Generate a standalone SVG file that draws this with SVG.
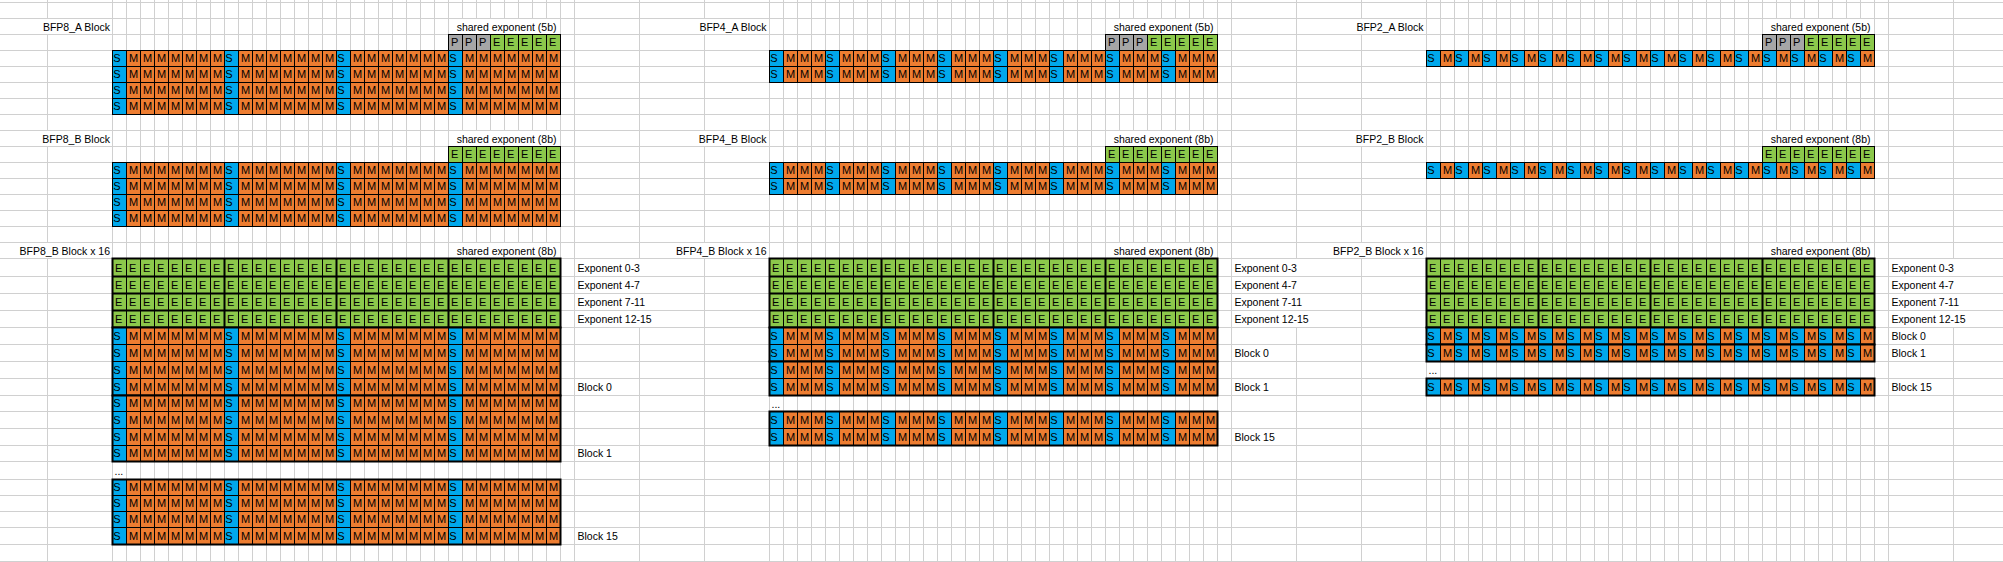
<svg xmlns="http://www.w3.org/2000/svg" width="2003" height="562" viewBox="0 0 2003 562">
<style>
.c{font-family:"Liberation Sans",Arial,sans-serif;font-size:11px;fill:#000}
.l{font-family:"Liberation Sans",Arial,sans-serif;font-size:10.5px;fill:#000}
.r{text-anchor:end}
.e{letter-spacing:6.663px}
.o{fill:#ED7D31}
.gr{fill:#8CC84B}
.p{fill:#A6A6A6}
.k{stroke:#000;stroke-width:1;fill:none}
.t{stroke:#000;stroke-width:2;fill:none}
.gl{stroke:#d0d0d0;stroke-width:1;fill:none}
.w{fill:#fff}
</style>
<defs>
<pattern id="g0" x="0" width="14" height="562" patternUnits="userSpaceOnUse"><rect width="1" height="562" fill="#d0d0d0"/></pattern>
<pattern id="g1" x="13" width="14" height="562" patternUnits="userSpaceOnUse"><rect width="1" height="562" fill="#d0d0d0"/></pattern>
<pattern id="g2" x="12" width="14" height="562" patternUnits="userSpaceOnUse"><rect width="1" height="562" fill="#d0d0d0"/></pattern>
<pattern id="bv" width="14" height="80" patternUnits="userSpaceOnUse"><rect width="1" height="80" fill="#000"/></pattern>
<pattern id="s8" width="112" height="80" patternUnits="userSpaceOnUse"><rect width="14" height="80" fill="#00A8EC"/></pattern>
<pattern id="s4" width="56" height="80" patternUnits="userSpaceOnUse"><rect width="14" height="80" fill="#00A8EC"/></pattern>
<pattern id="s2" width="28" height="80" patternUnits="userSpaceOnUse"><rect width="14" height="80" fill="#00A8EC"/></pattern>
</defs>
<rect width="2003" height="562" fill="#fff"/>
<g id="grid">
<rect x="112" width="449" height="562" fill="url(#g0)"/>
<rect x="769" width="449" height="562" fill="url(#g1)"/>
<rect x="1426" width="449" height="562" fill="url(#g2)"/>
<path class="gl" d="M47.5 0V562M574.5 0V562M639.5 0V562M704.5 0V562M1231.5 0V562M1296.5 0V562M1361.5 0V562M1888.5 0V562M1953.5 0V562M0 2.5H2003M0 18.5H2003M0 34.5H2003M0 50.5H2003M0 66.5H2003M0 82.5H2003M0 98.5H2003M0 114.5H2003M0 130.5H2003M0 146.5H2003M0 162.5H2003M0 178.5H2003M0 194.5H2003M0 210.5H2003M0 226.5H2003M0 242.5H2003M0 258.5H2003M0 276.5H2003M0 293.5H2003M0 310.5H2003M0 327.5H2003M0 344.5H2003M0 361.5H2003M0 378.5H2003M0 395.5H2003M0 411.5H2003M0 428.5H2003M0 445.5H2003M0 461.5H2003M0 479.5H2003M0 495.5H2003M0 511.5H2003M0 527.5H2003M0 544.5H2003M0 561.5H2003"/>
</g>
<g id="masks" class="w">
<rect x="41" y="19" width="69" height="15"/><rect x="456" y="19" width="101" height="15"/>
<rect x="698" y="19" width="69" height="15"/><rect x="1113" y="19" width="101" height="15"/>
<rect x="1355" y="19" width="69" height="15"/><rect x="1770" y="19" width="101" height="15"/>
<rect x="41" y="131" width="69" height="15"/><rect x="456" y="131" width="101" height="15"/>
<rect x="698" y="131" width="69" height="15"/><rect x="1113" y="131" width="101" height="15"/>
<rect x="1355" y="131" width="69" height="15"/><rect x="1770" y="131" width="101" height="15"/>
<rect x="19" y="243" width="91" height="15"/><rect x="456" y="243" width="101" height="15"/>
<rect x="676" y="243" width="91" height="15"/><rect x="1113" y="243" width="101" height="15"/>
<rect x="1333" y="243" width="91" height="15"/><rect x="1770" y="243" width="101" height="15"/>
<rect x="577" y="259" width="75" height="17"/><rect x="577" y="277" width="75" height="16"/><rect x="577" y="294" width="75" height="16"/><rect x="577" y="311" width="75" height="16"/>
<rect x="1234" y="259" width="75" height="17"/><rect x="1234" y="277" width="75" height="16"/><rect x="1234" y="294" width="75" height="16"/><rect x="1234" y="311" width="75" height="16"/>
<rect x="1891" y="259" width="75" height="17"/><rect x="1891" y="277" width="75" height="16"/><rect x="1891" y="294" width="75" height="16"/><rect x="1891" y="311" width="75" height="16"/>
</g>

<g id="bfp8-a">
<text class="l r" x="110" y="30.5">BFP8_A Block</text>
<text class="l r" x="556.5" y="30.5">shared exponent (5b)</text>
<g transform="translate(448,34)">
<rect width="43" height="17" class="p"/><rect x="42" width="71" height="17" class="gr"/><rect width="113" height="17" fill="url(#bv)"/>
<path class="k" d="M0 .5H113M0 16.5H113"/>
<text class="c e" x="3" y="12">PPPEEEEE</text>
</g>
<g transform="translate(112,50)">
<rect width="449" height="65" class="o"/><rect width="449" height="65" fill="url(#s8)"/><rect width="449" height="65" fill="url(#bv)"/>
<path class="k" d="M0 .5H449M0 16.5H449M0 32.5H449M0 48.5H449M0 64.5H449"/>
<text class="c" x="1.3 16.9 30.9 44.9 58.9 72.9 86.9 100.9 113.3 128.9 142.9 156.9 170.9 184.9 198.9 212.9 225.3 240.9 254.9 268.9 282.9 296.9 310.9 324.9 337.3 352.9 366.9 380.9 394.9 408.9 422.9 436.9" y="12">SMMMMMMMSMMMMMMMSMMMMMMMSMMMMMMM</text>
<text class="c" x="1.3 16.9 30.9 44.9 58.9 72.9 86.9 100.9 113.3 128.9 142.9 156.9 170.9 184.9 198.9 212.9 225.3 240.9 254.9 268.9 282.9 296.9 310.9 324.9 337.3 352.9 366.9 380.9 394.9 408.9 422.9 436.9" y="28">SMMMMMMMSMMMMMMMSMMMMMMMSMMMMMMM</text>
<text class="c" x="1.3 16.9 30.9 44.9 58.9 72.9 86.9 100.9 113.3 128.9 142.9 156.9 170.9 184.9 198.9 212.9 225.3 240.9 254.9 268.9 282.9 296.9 310.9 324.9 337.3 352.9 366.9 380.9 394.9 408.9 422.9 436.9" y="44">SMMMMMMMSMMMMMMMSMMMMMMMSMMMMMMM</text>
<text class="c" x="1.3 16.9 30.9 44.9 58.9 72.9 86.9 100.9 113.3 128.9 142.9 156.9 170.9 184.9 198.9 212.9 225.3 240.9 254.9 268.9 282.9 296.9 310.9 324.9 337.3 352.9 366.9 380.9 394.9 408.9 422.9 436.9" y="60">SMMMMMMMSMMMMMMMSMMMMMMMSMMMMMMM</text>
</g>
</g>

<g id="bfp8-b">
<text class="l r" x="110" y="142.5">BFP8_B Block</text>
<text class="l r" x="556.5" y="142.5">shared exponent (8b)</text>
<g transform="translate(448,146)">
<rect width="113" height="17" class="gr"/><rect width="113" height="17" fill="url(#bv)"/>
<path class="k" d="M0 .5H113M0 16.5H113"/>
<text class="c e" x="3" y="12">EEEEEEEE</text>
</g>
<g transform="translate(112,162)">
<rect width="449" height="65" class="o"/><rect width="449" height="65" fill="url(#s8)"/><rect width="449" height="65" fill="url(#bv)"/>
<path class="k" d="M0 .5H449M0 16.5H449M0 32.5H449M0 48.5H449M0 64.5H449"/>
<text class="c" x="1.3 16.9 30.9 44.9 58.9 72.9 86.9 100.9 113.3 128.9 142.9 156.9 170.9 184.9 198.9 212.9 225.3 240.9 254.9 268.9 282.9 296.9 310.9 324.9 337.3 352.9 366.9 380.9 394.9 408.9 422.9 436.9" y="12">SMMMMMMMSMMMMMMMSMMMMMMMSMMMMMMM</text>
<text class="c" x="1.3 16.9 30.9 44.9 58.9 72.9 86.9 100.9 113.3 128.9 142.9 156.9 170.9 184.9 198.9 212.9 225.3 240.9 254.9 268.9 282.9 296.9 310.9 324.9 337.3 352.9 366.9 380.9 394.9 408.9 422.9 436.9" y="28">SMMMMMMMSMMMMMMMSMMMMMMMSMMMMMMM</text>
<text class="c" x="1.3 16.9 30.9 44.9 58.9 72.9 86.9 100.9 113.3 128.9 142.9 156.9 170.9 184.9 198.9 212.9 225.3 240.9 254.9 268.9 282.9 296.9 310.9 324.9 337.3 352.9 366.9 380.9 394.9 408.9 422.9 436.9" y="44">SMMMMMMMSMMMMMMMSMMMMMMMSMMMMMMM</text>
<text class="c" x="1.3 16.9 30.9 44.9 58.9 72.9 86.9 100.9 113.3 128.9 142.9 156.9 170.9 184.9 198.9 212.9 225.3 240.9 254.9 268.9 282.9 296.9 310.9 324.9 337.3 352.9 366.9 380.9 394.9 408.9 422.9 436.9" y="60">SMMMMMMMSMMMMMMMSMMMMMMMSMMMMMMM</text>
</g>
</g>

<g id="bfp8-b-x16">
<text class="l r" x="110" y="254.5">BFP8_B Block x 16</text>
<text class="l r" x="556.5" y="254.5">shared exponent (8b)</text>
<g transform="translate(112,258)">
<rect width="449" height="70" class="gr"/><rect width="449" height="70" fill="url(#bv)"/>
<text class="c e" x="3" y="14.2">EEEEEEEEEEEEEEEEEEEEEEEEEEEEEEEE</text>
<text class="c e" x="3" y="31.2">EEEEEEEEEEEEEEEEEEEEEEEEEEEEEEEE</text>
<text class="c e" x="3" y="48.2">EEEEEEEEEEEEEEEEEEEEEEEEEEEEEEEE</text>
<text class="c e" x="3" y="65.2">EEEEEEEEEEEEEEEEEEEEEEEEEEEEEEEE</text>
<path class="t" d="M.5 .5H448.5V69.5H.5ZM0 18.5H449M0 35.5H449M0 52.5H449M112.5 0V70M224.5 0V70M336.5 0V70"/>
</g>
<text class="l" x="577.5" y="272.2">Exponent 0-3</text>
<text class="l" x="577.5" y="289.2">Exponent 4-7</text>
<text class="l" x="577.5" y="306.2">Exponent 7-11</text>
<text class="l" x="577.5" y="323.2">Exponent 12-15</text>
<g transform="translate(112,327)">
<rect width="449" height="69" class="o"/><rect width="449" height="69" fill="url(#s8)"/><rect width="449" height="69" fill="url(#bv)"/>
<path class="k" d="M0 17.5H449M0 34.5H449M0 51.5H449"/>
<text class="c" x="1.3 16.9 30.9 44.9 58.9 72.9 86.9 100.9 113.3 128.9 142.9 156.9 170.9 184.9 198.9 212.9 225.3 240.9 254.9 268.9 282.9 296.9 310.9 324.9 337.3 352.9 366.9 380.9 394.9 408.9 422.9 436.9" y="13.2">SMMMMMMMSMMMMMMMSMMMMMMMSMMMMMMM</text>
<text class="c" x="1.3 16.9 30.9 44.9 58.9 72.9 86.9 100.9 113.3 128.9 142.9 156.9 170.9 184.9 198.9 212.9 225.3 240.9 254.9 268.9 282.9 296.9 310.9 324.9 337.3 352.9 366.9 380.9 394.9 408.9 422.9 436.9" y="30.2">SMMMMMMMSMMMMMMMSMMMMMMMSMMMMMMM</text>
<text class="c" x="1.3 16.9 30.9 44.9 58.9 72.9 86.9 100.9 113.3 128.9 142.9 156.9 170.9 184.9 198.9 212.9 225.3 240.9 254.9 268.9 282.9 296.9 310.9 324.9 337.3 352.9 366.9 380.9 394.9 408.9 422.9 436.9" y="47.2">SMMMMMMMSMMMMMMMSMMMMMMMSMMMMMMM</text>
<text class="c" x="1.3 16.9 30.9 44.9 58.9 72.9 86.9 100.9 113.3 128.9 142.9 156.9 170.9 184.9 198.9 212.9 225.3 240.9 254.9 268.9 282.9 296.9 310.9 324.9 337.3 352.9 366.9 380.9 394.9 408.9 422.9 436.9" y="64.2">SMMMMMMMSMMMMMMMSMMMMMMMSMMMMMMM</text>
<path class="t" d="M.5 .5H448.5V68.5H.5Z"/>
</g>
<text class="l" x="577.5" y="391.2">Block 0</text>
<g transform="translate(112,395)">
<rect width="449" height="67" class="o"/><rect width="449" height="67" fill="url(#s8)"/><rect width="449" height="67" fill="url(#bv)"/>
<path class="k" d="M0 16.5H449M0 33.5H449M0 50.5H449"/>
<text class="c" x="1.3 16.9 30.9 44.9 58.9 72.9 86.9 100.9 113.3 128.9 142.9 156.9 170.9 184.9 198.9 212.9 225.3 240.9 254.9 268.9 282.9 296.9 310.9 324.9 337.3 352.9 366.9 380.9 394.9 408.9 422.9 436.9" y="12.2">SMMMMMMMSMMMMMMMSMMMMMMMSMMMMMMM</text>
<text class="c" x="1.3 16.9 30.9 44.9 58.9 72.9 86.9 100.9 113.3 128.9 142.9 156.9 170.9 184.9 198.9 212.9 225.3 240.9 254.9 268.9 282.9 296.9 310.9 324.9 337.3 352.9 366.9 380.9 394.9 408.9 422.9 436.9" y="29.2">SMMMMMMMSMMMMMMMSMMMMMMMSMMMMMMM</text>
<text class="c" x="1.3 16.9 30.9 44.9 58.9 72.9 86.9 100.9 113.3 128.9 142.9 156.9 170.9 184.9 198.9 212.9 225.3 240.9 254.9 268.9 282.9 296.9 310.9 324.9 337.3 352.9 366.9 380.9 394.9 408.9 422.9 436.9" y="46.2">SMMMMMMMSMMMMMMMSMMMMMMMSMMMMMMM</text>
<text class="c" x="1.3 16.9 30.9 44.9 58.9 72.9 86.9 100.9 113.3 128.9 142.9 156.9 170.9 184.9 198.9 212.9 225.3 240.9 254.9 268.9 282.9 296.9 310.9 324.9 337.3 352.9 366.9 380.9 394.9 408.9 422.9 436.9" y="62.2">SMMMMMMMSMMMMMMMSMMMMMMMSMMMMMMM</text>
<path class="t" d="M.5 .5H448.5V66.5H.5Z"/>
</g>
<text class="l" x="577.5" y="457.2">Block 1</text>
<text class="l" x="114.5" y="475">...</text>
<g transform="translate(112,479)">
<rect width="449" height="66" class="o"/><rect width="449" height="66" fill="url(#s8)"/><rect width="449" height="66" fill="url(#bv)"/>
<path class="k" d="M0 16.5H449M0 32.5H449M0 48.5H449"/>
<text class="c" x="1.3 16.9 30.9 44.9 58.9 72.9 86.9 100.9 113.3 128.9 142.9 156.9 170.9 184.9 198.9 212.9 225.3 240.9 254.9 268.9 282.9 296.9 310.9 324.9 337.3 352.9 366.9 380.9 394.9 408.9 422.9 436.9" y="12.2">SMMMMMMMSMMMMMMMSMMMMMMMSMMMMMMM</text>
<text class="c" x="1.3 16.9 30.9 44.9 58.9 72.9 86.9 100.9 113.3 128.9 142.9 156.9 170.9 184.9 198.9 212.9 225.3 240.9 254.9 268.9 282.9 296.9 310.9 324.9 337.3 352.9 366.9 380.9 394.9 408.9 422.9 436.9" y="28.2">SMMMMMMMSMMMMMMMSMMMMMMMSMMMMMMM</text>
<text class="c" x="1.3 16.9 30.9 44.9 58.9 72.9 86.9 100.9 113.3 128.9 142.9 156.9 170.9 184.9 198.9 212.9 225.3 240.9 254.9 268.9 282.9 296.9 310.9 324.9 337.3 352.9 366.9 380.9 394.9 408.9 422.9 436.9" y="44.2">SMMMMMMMSMMMMMMMSMMMMMMMSMMMMMMM</text>
<text class="c" x="1.3 16.9 30.9 44.9 58.9 72.9 86.9 100.9 113.3 128.9 142.9 156.9 170.9 184.9 198.9 212.9 225.3 240.9 254.9 268.9 282.9 296.9 310.9 324.9 337.3 352.9 366.9 380.9 394.9 408.9 422.9 436.9" y="61.2">SMMMMMMMSMMMMMMMSMMMMMMMSMMMMMMM</text>
<path class="t" d="M.5 .5H448.5V65.5H.5Z"/>
</g>
<text class="l" x="577.5" y="540.2">Block 15</text>
</g>

<g id="bfp4-a">
<text class="l r" x="766.5" y="30.5">BFP4_A Block</text>
<text class="l r" x="1213.5" y="30.5">shared exponent (5b)</text>
<g transform="translate(1105,34)">
<rect width="43" height="17" class="p"/><rect x="42" width="71" height="17" class="gr"/><rect width="113" height="17" fill="url(#bv)"/>
<path class="k" d="M0 .5H113M0 16.5H113"/>
<text class="c e" x="3" y="12">PPPEEEEE</text>
</g>
<g transform="translate(769,50)">
<rect width="449" height="33" class="o"/><rect width="449" height="33" fill="url(#s4)"/><rect width="449" height="33" fill="url(#bv)"/>
<path class="k" d="M0 .5H449M0 16.5H449M0 32.5H449"/>
<text class="c" x="1.3 16.9 30.9 44.9 57.3 72.9 86.9 100.9 113.3 128.9 142.9 156.9 169.3 184.9 198.9 212.9 225.3 240.9 254.9 268.9 281.3 296.9 310.9 324.9 337.3 352.9 366.9 380.9 393.3 408.9 422.9 436.9" y="12">SMMMSMMMSMMMSMMMSMMMSMMMSMMMSMMM</text>
<text class="c" x="1.3 16.9 30.9 44.9 57.3 72.9 86.9 100.9 113.3 128.9 142.9 156.9 169.3 184.9 198.9 212.9 225.3 240.9 254.9 268.9 281.3 296.9 310.9 324.9 337.3 352.9 366.9 380.9 393.3 408.9 422.9 436.9" y="28">SMMMSMMMSMMMSMMMSMMMSMMMSMMMSMMM</text>
</g>
</g>

<g id="bfp4-b">
<text class="l r" x="766.5" y="142.5">BFP4_B Block</text>
<text class="l r" x="1213.5" y="142.5">shared exponent (8b)</text>
<g transform="translate(1105,146)">
<rect width="113" height="17" class="gr"/><rect width="113" height="17" fill="url(#bv)"/>
<path class="k" d="M0 .5H113M0 16.5H113"/>
<text class="c e" x="3" y="12">EEEEEEEE</text>
</g>
<g transform="translate(769,162)">
<rect width="449" height="33" class="o"/><rect width="449" height="33" fill="url(#s4)"/><rect width="449" height="33" fill="url(#bv)"/>
<path class="k" d="M0 .5H449M0 16.5H449M0 32.5H449"/>
<text class="c" x="1.3 16.9 30.9 44.9 57.3 72.9 86.9 100.9 113.3 128.9 142.9 156.9 169.3 184.9 198.9 212.9 225.3 240.9 254.9 268.9 281.3 296.9 310.9 324.9 337.3 352.9 366.9 380.9 393.3 408.9 422.9 436.9" y="12">SMMMSMMMSMMMSMMMSMMMSMMMSMMMSMMM</text>
<text class="c" x="1.3 16.9 30.9 44.9 57.3 72.9 86.9 100.9 113.3 128.9 142.9 156.9 169.3 184.9 198.9 212.9 225.3 240.9 254.9 268.9 281.3 296.9 310.9 324.9 337.3 352.9 366.9 380.9 393.3 408.9 422.9 436.9" y="28">SMMMSMMMSMMMSMMMSMMMSMMMSMMMSMMM</text>
</g>
</g>

<g id="bfp4-b-x16">
<text class="l r" x="766.5" y="254.5">BFP4_B Block x 16</text>
<text class="l r" x="1213.5" y="254.5">shared exponent (8b)</text>
<g transform="translate(769,258)">
<rect width="449" height="70" class="gr"/><rect width="449" height="70" fill="url(#bv)"/>
<text class="c e" x="3" y="14.2">EEEEEEEEEEEEEEEEEEEEEEEEEEEEEEEE</text>
<text class="c e" x="3" y="31.2">EEEEEEEEEEEEEEEEEEEEEEEEEEEEEEEE</text>
<text class="c e" x="3" y="48.2">EEEEEEEEEEEEEEEEEEEEEEEEEEEEEEEE</text>
<text class="c e" x="3" y="65.2">EEEEEEEEEEEEEEEEEEEEEEEEEEEEEEEE</text>
<path class="t" d="M.5 .5H448.5V69.5H.5ZM0 18.5H449M0 35.5H449M0 52.5H449M112.5 0V70M224.5 0V70M336.5 0V70"/>
</g>
<text class="l" x="1234.5" y="272.2">Exponent 0-3</text>
<text class="l" x="1234.5" y="289.2">Exponent 4-7</text>
<text class="l" x="1234.5" y="306.2">Exponent 7-11</text>
<text class="l" x="1234.5" y="323.2">Exponent 12-15</text>
<g transform="translate(769,327)">
<rect width="449" height="35" class="o"/><rect width="449" height="35" fill="url(#s4)"/><rect width="449" height="35" fill="url(#bv)"/>
<path class="k" d="M0 17.5H449"/>
<text class="c" x="1.3 16.9 30.9 44.9 57.3 72.9 86.9 100.9 113.3 128.9 142.9 156.9 169.3 184.9 198.9 212.9 225.3 240.9 254.9 268.9 281.3 296.9 310.9 324.9 337.3 352.9 366.9 380.9 393.3 408.9 422.9 436.9" y="13.2">SMMMSMMMSMMMSMMMSMMMSMMMSMMMSMMM</text>
<text class="c" x="1.3 16.9 30.9 44.9 57.3 72.9 86.9 100.9 113.3 128.9 142.9 156.9 169.3 184.9 198.9 212.9 225.3 240.9 254.9 268.9 281.3 296.9 310.9 324.9 337.3 352.9 366.9 380.9 393.3 408.9 422.9 436.9" y="30.2">SMMMSMMMSMMMSMMMSMMMSMMMSMMMSMMM</text>
<path class="t" d="M.5 .5H448.5V34.5H.5Z"/>
</g>
<text class="l" x="1234.5" y="357.2">Block 0</text>
<g transform="translate(769,361)">
<rect width="449" height="35" class="o"/><rect width="449" height="35" fill="url(#s4)"/><rect width="449" height="35" fill="url(#bv)"/>
<path class="k" d="M0 17.5H449"/>
<text class="c" x="1.3 16.9 30.9 44.9 57.3 72.9 86.9 100.9 113.3 128.9 142.9 156.9 169.3 184.9 198.9 212.9 225.3 240.9 254.9 268.9 281.3 296.9 310.9 324.9 337.3 352.9 366.9 380.9 393.3 408.9 422.9 436.9" y="13.2">SMMMSMMMSMMMSMMMSMMMSMMMSMMMSMMM</text>
<text class="c" x="1.3 16.9 30.9 44.9 57.3 72.9 86.9 100.9 113.3 128.9 142.9 156.9 169.3 184.9 198.9 212.9 225.3 240.9 254.9 268.9 281.3 296.9 310.9 324.9 337.3 352.9 366.9 380.9 393.3 408.9 422.9 436.9" y="30.2">SMMMSMMMSMMMSMMMSMMMSMMMSMMMSMMM</text>
<path class="t" d="M.5 .5H448.5V34.5H.5Z"/>
</g>
<text class="l" x="1234.5" y="391.2">Block 1</text>
<text class="l" x="771.5" y="407.5">...</text>
<g transform="translate(769,411)">
<rect width="449" height="35" class="o"/><rect width="449" height="35" fill="url(#s4)"/><rect width="449" height="35" fill="url(#bv)"/>
<path class="k" d="M0 17.5H449"/>
<text class="c" x="1.3 16.9 30.9 44.9 57.3 72.9 86.9 100.9 113.3 128.9 142.9 156.9 169.3 184.9 198.9 212.9 225.3 240.9 254.9 268.9 281.3 296.9 310.9 324.9 337.3 352.9 366.9 380.9 393.3 408.9 422.9 436.9" y="13.2">SMMMSMMMSMMMSMMMSMMMSMMMSMMMSMMM</text>
<text class="c" x="1.3 16.9 30.9 44.9 57.3 72.9 86.9 100.9 113.3 128.9 142.9 156.9 169.3 184.9 198.9 212.9 225.3 240.9 254.9 268.9 281.3 296.9 310.9 324.9 337.3 352.9 366.9 380.9 393.3 408.9 422.9 436.9" y="30.2">SMMMSMMMSMMMSMMMSMMMSMMMSMMMSMMM</text>
<path class="t" d="M.5 .5H448.5V34.5H.5Z"/>
</g>
<text class="l" x="1234.5" y="441.2">Block 15</text>
</g>

<g id="bfp2-a">
<text class="l r" x="1423.5" y="30.5">BFP2_A Block</text>
<text class="l r" x="1870.5" y="30.5">shared exponent (5b)</text>
<g transform="translate(1762,34)">
<rect width="43" height="17" class="p"/><rect x="42" width="71" height="17" class="gr"/><rect width="113" height="17" fill="url(#bv)"/>
<path class="k" d="M0 .5H113M0 16.5H113"/>
<text class="c e" x="3" y="12">PPPEEEEE</text>
</g>
<g transform="translate(1426,50)">
<rect width="449" height="17" class="o"/><rect width="449" height="17" fill="url(#s2)"/><rect width="449" height="17" fill="url(#bv)"/>
<path class="k" d="M0 .5H449M0 16.5H449"/>
<text class="c" x="1.3 16.9 29.3 44.9 57.3 72.9 85.3 100.9 113.3 128.9 141.3 156.9 169.3 184.9 197.3 212.9 225.3 240.9 253.3 268.9 281.3 296.9 309.3 324.9 337.3 352.9 365.3 380.9 393.3 408.9 421.3 436.9" y="12">SMSMSMSMSMSMSMSMSMSMSMSMSMSMSMSM</text>
</g>
</g>

<g id="bfp2-b">
<text class="l r" x="1423.5" y="142.5">BFP2_B Block</text>
<text class="l r" x="1870.5" y="142.5">shared exponent (8b)</text>
<g transform="translate(1762,146)">
<rect width="113" height="17" class="gr"/><rect width="113" height="17" fill="url(#bv)"/>
<path class="k" d="M0 .5H113M0 16.5H113"/>
<text class="c e" x="3" y="12">EEEEEEEE</text>
</g>
<g transform="translate(1426,162)">
<rect width="449" height="17" class="o"/><rect width="449" height="17" fill="url(#s2)"/><rect width="449" height="17" fill="url(#bv)"/>
<path class="k" d="M0 .5H449M0 16.5H449"/>
<text class="c" x="1.3 16.9 29.3 44.9 57.3 72.9 85.3 100.9 113.3 128.9 141.3 156.9 169.3 184.9 197.3 212.9 225.3 240.9 253.3 268.9 281.3 296.9 309.3 324.9 337.3 352.9 365.3 380.9 393.3 408.9 421.3 436.9" y="12">SMSMSMSMSMSMSMSMSMSMSMSMSMSMSMSM</text>
</g>
</g>

<g id="bfp2-b-x16">
<text class="l r" x="1423.5" y="254.5">BFP2_B Block x 16</text>
<text class="l r" x="1870.5" y="254.5">shared exponent (8b)</text>
<g transform="translate(1426,258)">
<rect width="449" height="70" class="gr"/><rect width="449" height="70" fill="url(#bv)"/>
<text class="c e" x="3" y="14.2">EEEEEEEEEEEEEEEEEEEEEEEEEEEEEEEE</text>
<text class="c e" x="3" y="31.2">EEEEEEEEEEEEEEEEEEEEEEEEEEEEEEEE</text>
<text class="c e" x="3" y="48.2">EEEEEEEEEEEEEEEEEEEEEEEEEEEEEEEE</text>
<text class="c e" x="3" y="65.2">EEEEEEEEEEEEEEEEEEEEEEEEEEEEEEEE</text>
<path class="t" d="M.5 .5H448.5V69.5H.5ZM0 18.5H449M0 35.5H449M0 52.5H449M112.5 0V70M224.5 0V70M336.5 0V70"/>
</g>
<text class="l" x="1891.5" y="272.2">Exponent 0-3</text>
<text class="l" x="1891.5" y="289.2">Exponent 4-7</text>
<text class="l" x="1891.5" y="306.2">Exponent 7-11</text>
<text class="l" x="1891.5" y="323.2">Exponent 12-15</text>
<g transform="translate(1426,327)">
<rect width="449" height="18" class="o"/><rect width="449" height="18" fill="url(#s2)"/><rect width="449" height="18" fill="url(#bv)"/>
<text class="c" x="1.3 16.9 29.3 44.9 57.3 72.9 85.3 100.9 113.3 128.9 141.3 156.9 169.3 184.9 197.3 212.9 225.3 240.9 253.3 268.9 281.3 296.9 309.3 324.9 337.3 352.9 365.3 380.9 393.3 408.9 421.3 436.9" y="13.2">SMSMSMSMSMSMSMSMSMSMSMSMSMSMSMSM</text>
<path class="t" d="M.5 .5H448.5V17.5H.5Z"/>
</g>
<text class="l" x="1891.5" y="340.2">Block 0</text>
<g transform="translate(1426,344)">
<rect width="449" height="18" class="o"/><rect width="449" height="18" fill="url(#s2)"/><rect width="449" height="18" fill="url(#bv)"/>
<text class="c" x="1.3 16.9 29.3 44.9 57.3 72.9 85.3 100.9 113.3 128.9 141.3 156.9 169.3 184.9 197.3 212.9 225.3 240.9 253.3 268.9 281.3 296.9 309.3 324.9 337.3 352.9 365.3 380.9 393.3 408.9 421.3 436.9" y="13.2">SMSMSMSMSMSMSMSMSMSMSMSMSMSMSMSM</text>
<path class="t" d="M.5 .5H448.5V17.5H.5Z"/>
</g>
<text class="l" x="1891.5" y="357.2">Block 1</text>
<text class="l" x="1428.5" y="374">...</text>
<g transform="translate(1426,378)">
<rect width="449" height="18" class="o"/><rect width="449" height="18" fill="url(#s2)"/><rect width="449" height="18" fill="url(#bv)"/>
<text class="c" x="1.3 16.9 29.3 44.9 57.3 72.9 85.3 100.9 113.3 128.9 141.3 156.9 169.3 184.9 197.3 212.9 225.3 240.9 253.3 268.9 281.3 296.9 309.3 324.9 337.3 352.9 365.3 380.9 393.3 408.9 421.3 436.9" y="13.2">SMSMSMSMSMSMSMSMSMSMSMSMSMSMSMSM</text>
<path class="t" d="M.5 .5H448.5V17.5H.5Z"/>
</g>
<text class="l" x="1891.5" y="391.2">Block 15</text>
</g>
<g id="connectors"/>
</svg>
